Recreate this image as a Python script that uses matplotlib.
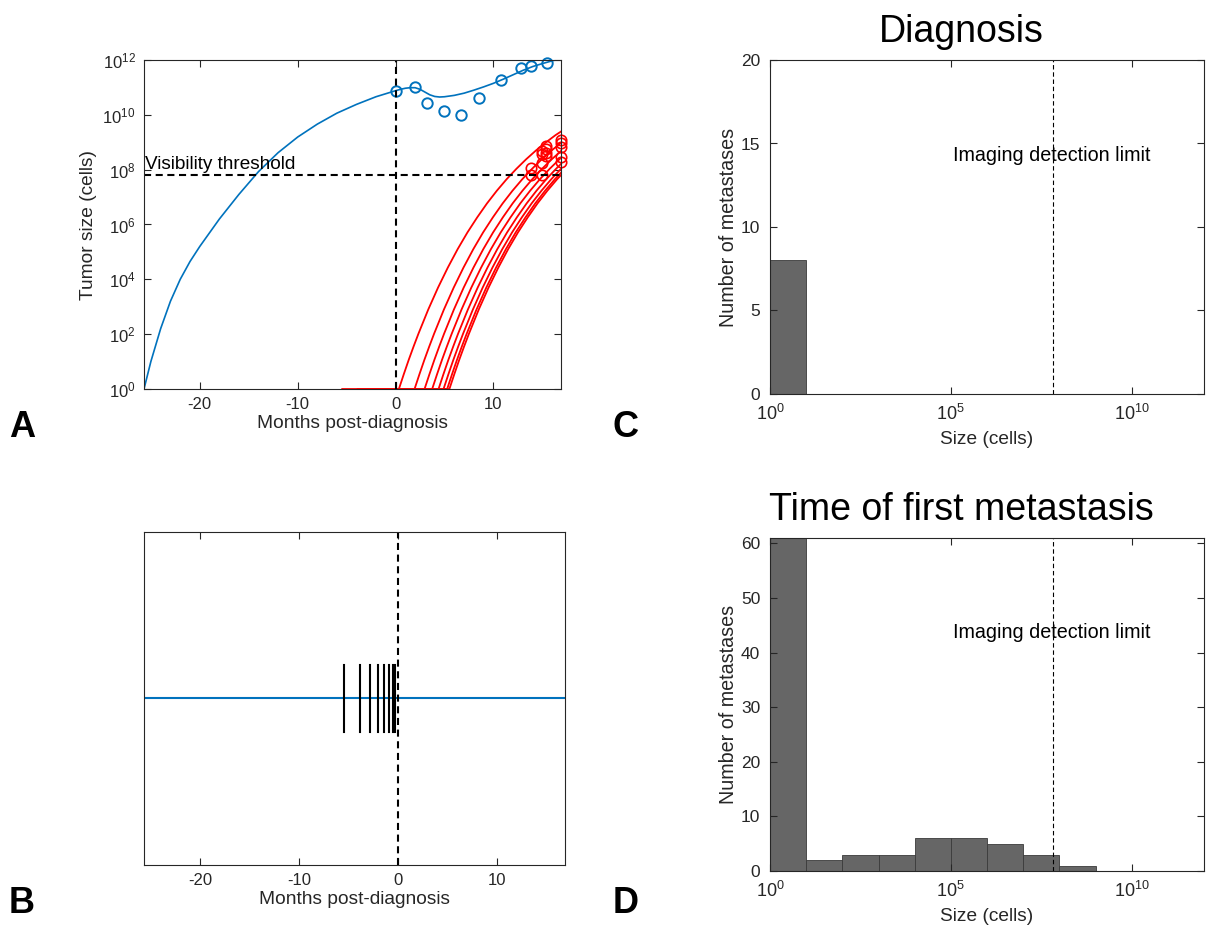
import numpy as np
import matplotlib
matplotlib.use('Agg')
import matplotlib.pyplot as plt
from matplotlib.ticker import FixedLocator, NullLocator

plt.rcParams['font.family'] = ['Liberation Sans', 'DejaVu Sans']
plt.rcParams['mathtext.fontset'] = 'custom'
plt.rcParams['mathtext.rm'] = 'Liberation Sans'
plt.rcParams['mathtext.it'] = 'Liberation Sans:italic'
plt.rcParams['axes.unicode_minus'] = False

# primary tumour model curve (months, log10 cells)
primary_t = [-25.7, -25.0, -24.0, -23.0, -22.0, -21.0, -20.0, -18.0, -16.0, -14.0,
             -12.0, -10.0, -8.0, -6.0, -4.0, -2.0, 0.0,
             0.5, 1.0, 1.5, 2.0, 2.5, 3.0, 3.5, 4.0, 4.5, 5.0, 6.0, 7.0, 8.0,
             9.0, 10.0, 11.0, 12.0, 13.0, 14.0, 15.0, 16.0, 16.9]
primary_log = [0.0, 1.0, 2.2, 3.2, 4.0, 4.65, 5.2, 6.2, 7.1, 7.93,
               8.62, 9.19, 9.66, 10.06, 10.38, 10.66, 10.88,
               10.93, 10.97, 10.99, 10.99, 10.93, 10.83, 10.73, 10.67, 10.65, 10.66,
               10.71, 10.79, 10.90, 11.02, 11.15, 11.30, 11.46, 11.62, 11.76,
               11.87, 11.97, 12.05]

# primary tumour measurements
obs_t = [0.0, 1.94, 3.2, 4.9, 6.65, 8.5, 10.77, 12.85, 13.8, 15.5]
obs_log = [10.88, 11.0, 10.42, 10.14, 10.0, 10.6, 11.27, 11.69, 11.78, 11.9]

# metastases: birth time, start of growth, shared growth profile after onset
met_birth = [-5.45, -3.88, -2.87, -2.07, -1.44, -0.92, -0.5, -0.28]
met_onset = [0.34, 1.94, 2.96, 3.74, 4.39, 4.9, 5.27, 5.5]
growth_dt = [0.0, 0.5, 1.0, 1.5, 2.0, 3.0, 4.0, 5.0, 6.0, 7.0, 8.0, 9.0, 10.0,
             11.0, 12.0, 13.0, 14.0, 15.0, 16.0, 16.6]
growth_log = [0.0, 0.54, 1.06, 1.55, 2.02, 2.90, 3.70, 4.43, 5.10, 5.71, 6.26,
              6.77, 7.23, 7.65, 8.03, 8.38, 8.70, 8.99, 9.26, 9.40]

# metastasis measurements
met_obs_t = [13.8, 13.8, 15.0, 15.0, 15.0, 15.0, 15.4, 15.4, 15.4, 15.4,
             16.9, 16.9, 16.9, 16.9, 16.9]
met_obs_log = [8.05, 7.8, 8.68, 8.56, 8.25, 7.8, 8.86, 8.74, 8.62, 8.5,
               9.08, 8.96, 8.84, 8.47, 8.29]

detection_limit = 6.6e7

# histograms of metastasis sizes, one bin per decade
bin_decades = list(range(12))
diag_counts = [8, 0, 0, 0, 0, 0, 0, 0, 0, 0, 0, 0]
first_counts = [61, 2, 3, 3, 6, 6, 5, 3, 1, 0, 0, 0]

BLUE = '#0072BD'
GREY = '#262626'
W, H = 1211, 930
LABEL_FS = 13.8

fig = plt.figure(figsize=(W / 100, H / 100), dpi=100)


def box(left, top, right, bottom):
    return [left / W, 1 - bottom / H, (right - left) / W, (bottom - top) / H]


def style(ax, size=12):
    for s in ax.spines.values():
        s.set_color(GREY)
        s.set_linewidth(0.8)
    ax.tick_params(direction='in', top=True, right=True, colors=GREY,
                   labelsize=size, length=5, width=0.8, pad=6)


xlim_t = (-25.7, 16.9)
dash = (0, (3.4, 2.2))

# A: tumour sizes
axA = fig.add_axes(box(144, 60, 561, 389))
axA.plot(primary_t, [10 ** v for v in primary_log], color=BLUE, lw=1.2)
axA.plot(obs_t, [10 ** v for v in obs_log], 'o', mfc='none', mec=BLUE, ms=7.5, mew=1.4,
         clip_on=False)
for b, o in zip(met_birth, met_onset):
    tt = [b] + [o + d for d in growth_dt]
    yy = [1.0] + [10 ** v for v in growth_log]
    axA.plot(tt, yy, color='red', lw=1.3)
axA.plot(met_obs_t, [10 ** v for v in met_obs_log], 'o', mfc='none', mec='red', ms=7.5,
         mew=1.2, clip_on=False)
axA.axvline(0, color='k', lw=1.5, ls=dash)
axA.axhline(detection_limit, color='k', lw=1.5, ls=dash)
axA.text(-25.6, 1.05e8, 'Visibility threshold', fontsize=13.7, va='baseline', ha='left')
axA.set_yscale('log')
axA.set_xlim(*xlim_t)
axA.set_ylim(1, 1e12)
axA.yaxis.set_major_locator(FixedLocator([10.0 ** k for k in range(0, 13, 2)]))
axA.yaxis.set_minor_locator(NullLocator())
axA.set_xticks([-20, -10, 0, 10])
axA.set_xlabel('Months post-diagnosis', fontsize=LABEL_FS, color=GREY, labelpad=2)
axA.set_ylabel('Tumor size (cells)', fontsize=LABEL_FS, color=GREY, labelpad=4)
style(axA)

# B: timeline of metastasis births
axB = fig.add_axes(box(144, 532, 565, 865))
axB.axhline(0, color=BLUE, lw=1.5)
for b in met_birth:
    axB.plot([b, b], [-0.2, 0.2], color='k', lw=1.5)
axB.axvline(0, color='k', lw=1.5, ls=dash)
axB.set_xlim(*xlim_t)
axB.set_ylim(-1, 1)
axB.set_yticks([])
axB.set_xticks([-20, -10, 0, 10])
axB.set_xlabel('Months post-diagnosis', fontsize=LABEL_FS, color=GREY, labelpad=2)
style(axB)


def size_hist(ax, counts, ymax, yticks, title):
    left = [10.0 ** k for k in bin_decades]
    width = [10.0 ** (k + 1) - 10.0 ** k for k in bin_decades]
    ax.bar(left, counts, width=width, align='edge', color='#666666',
           edgecolor='#3a3a3a', linewidth=0.6)
    ax.axvline(detection_limit, color='k', lw=0.8, ls=(0, (4, 2.5)))
    ax.set_xscale('log')
    ax.set_xlim(1, 1e12)
    ax.set_ylim(0, ymax)
    ax.xaxis.set_major_locator(FixedLocator([1, 1e5, 1e10]))
    ax.xaxis.set_minor_locator(NullLocator())
    ax.set_yticks(yticks)
    ax.text(1.15e5, ymax * 0.715, 'Imaging detection limit', fontsize=14.2,
            va='center', ha='left')
    ax.set_xlabel('Size (cells)', fontsize=LABEL_FS, color=GREY, labelpad=5)
    ax.set_ylabel('Number of metastases', fontsize=14.2, color=GREY, labelpad=2)
    ax.set_title(title, fontsize=27, pad=13, x=0.44)
    style(ax, 12.5)
    ax.tick_params(axis='x', labelsize=13, pad=7)
    ax.tick_params(axis='y', pad=7)


axC = fig.add_axes(box(770, 60, 1204, 394))
size_hist(axC, diag_counts, 20, [0, 5, 10, 15, 20], 'Diagnosis')

axD = fig.add_axes(box(770, 538, 1204, 871))
size_hist(axD, first_counts, 61, [0, 10, 20, 30, 40, 50, 60], 'Time of first metastasis')

# panel letters
for letter, x, y in [('A', 9, 437), ('B', 9, 913), ('C', 613, 437), ('D', 613, 913)]:
    fig.text(x / W, 1 - y / H, letter, fontsize=26, fontweight='bold', va='baseline')

fig.savefig('out.png', dpi=100)
